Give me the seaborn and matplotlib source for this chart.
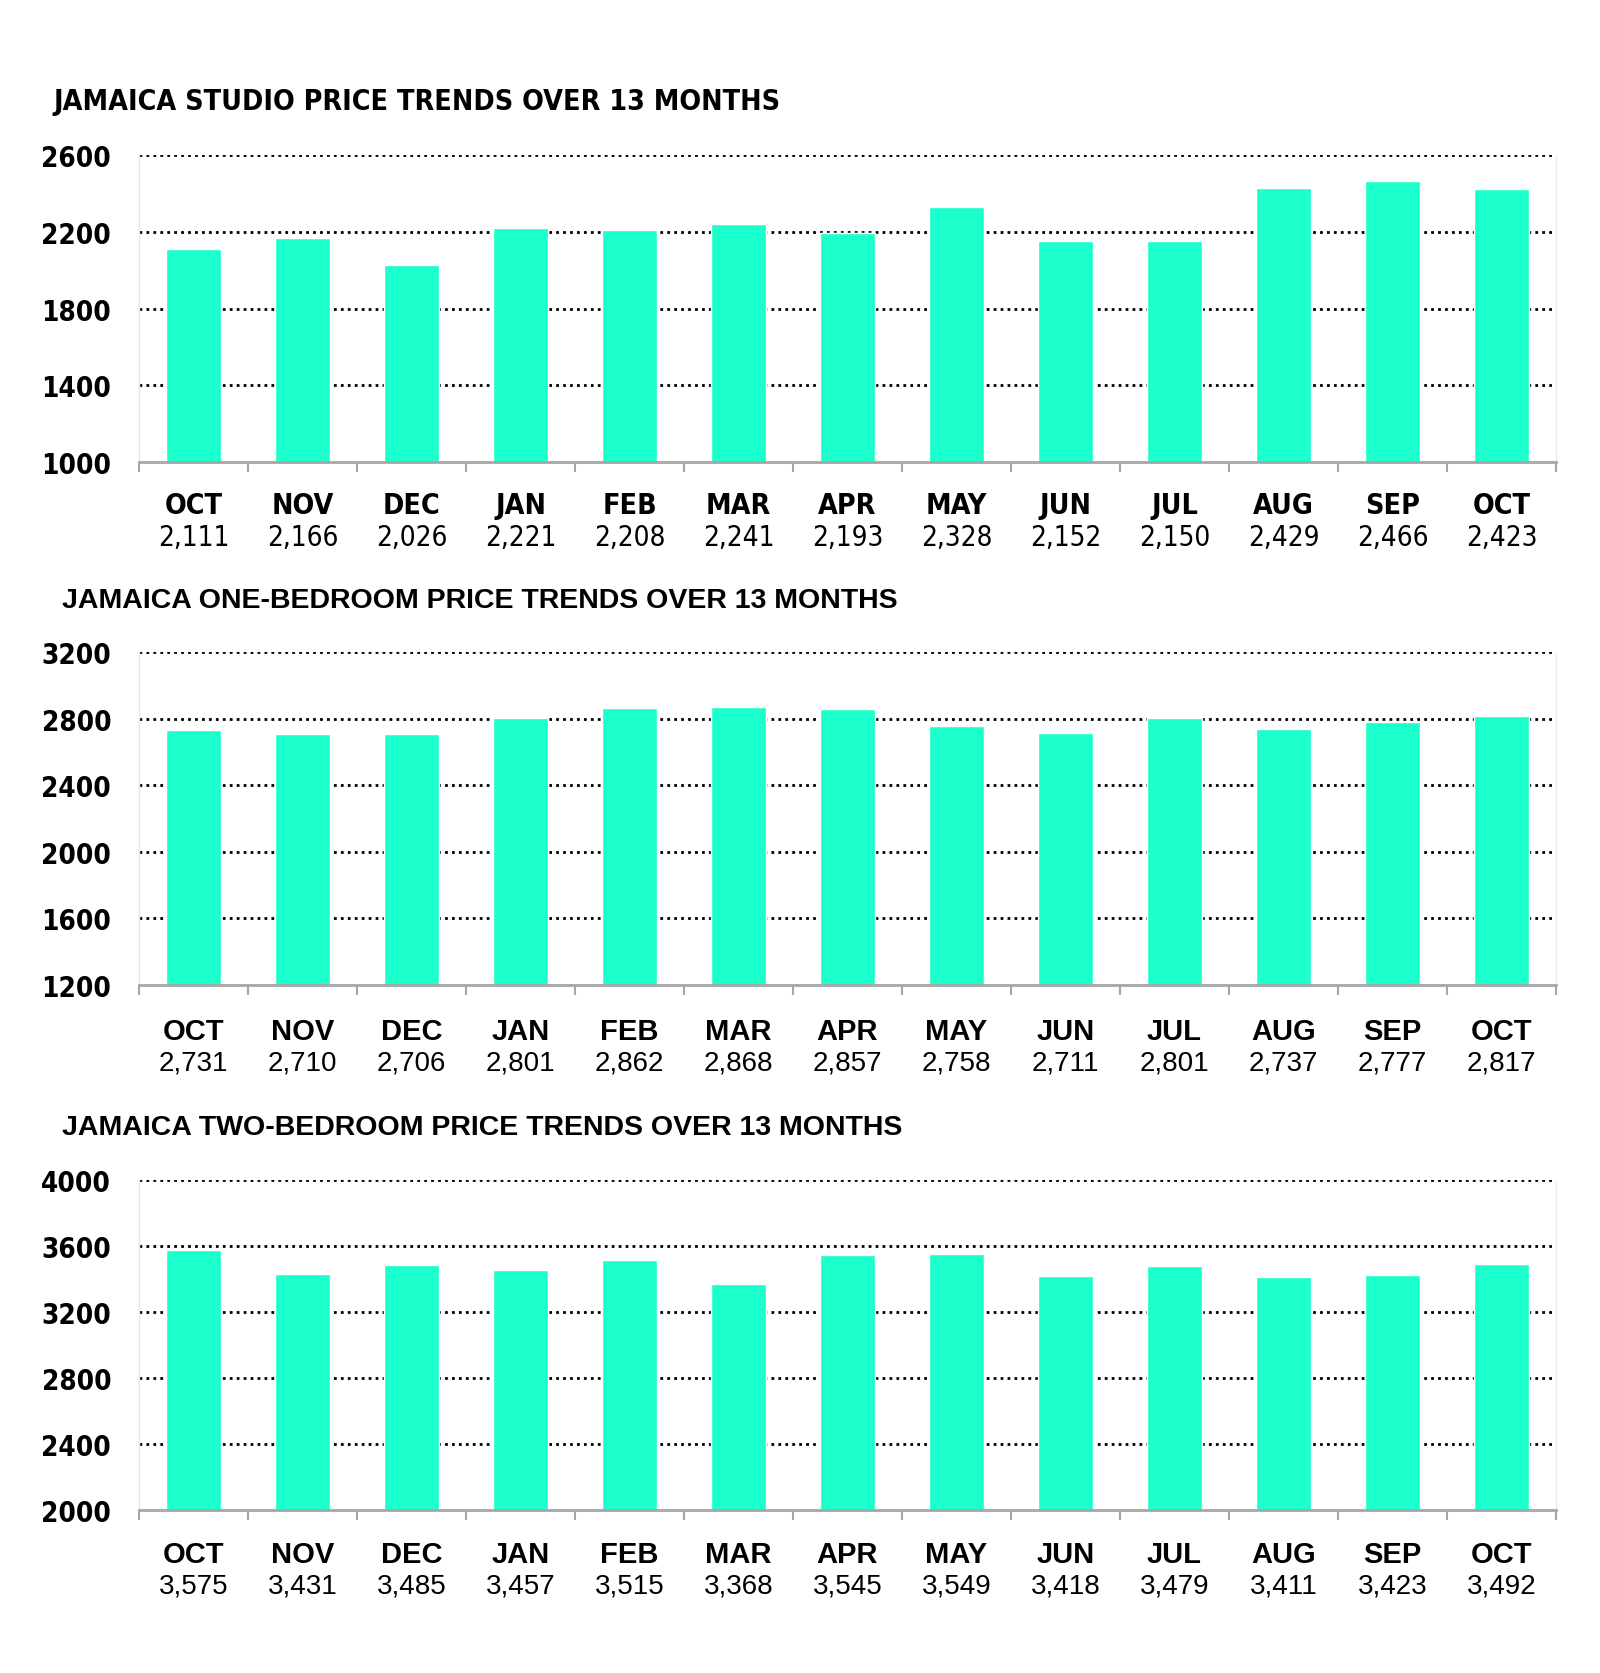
import matplotlib
matplotlib.use("Agg")
import matplotlib.pyplot as plt
import matplotlib.transforms as mtransforms
from matplotlib import font_manager
import seaborn as sns
import pandas as pd

months = ["OCT", "NOV", "DEC", "JAN", "FEB", "MAR", "APR", "MAY", "JUN", "JUL", "AUG", "SEP", "OCT"]
studio = [2111, 2166, 2026, 2221, 2208, 2241, 2193, 2328, 2152, 2150, 2429, 2466, 2423]
one_bed = [2731, 2710, 2706, 2801, 2862, 2868, 2857, 2758, 2711, 2801, 2737, 2777, 2817]
two_bed = [3575, 3431, 3485, 3457, 3515, 3368, 3545, 3549, 3418, 3479, 3411, 3423, 3492]

titles = ["JAMAICA STUDIO PRICE TRENDS OVER 13 MONTHS",
          "JAMAICA ONE-BEDROOM PRICE TRENDS OVER 13 MONTHS",
          "JAMAICA TWO-BEDROOM PRICE TRENDS OVER 13 MONTHS"]
yticks = [[1000, 1400, 1800, 2200, 2600],
          [1200, 1600, 2000, 2400, 2800, 3200],
          [2000, 2400, 2800, 3200, 3600, 4000]]

sns.set_theme(style="white")
available = {f.name for f in font_manager.fontManager.ttflist}
narrow = "Liberation Sans Narrow" if "Liberation Sans Narrow" in available else "DejaVu Sans"
plt.rcParams['font.family'] = ['Liberation Sans', 'DejaVu Sans']
plt.rcParams['text.color'] = 'black'
plt.rcParams['ytick.color'] = 'black'
plt.rcParams['xtick.color'] = 'black'

W, H = 1600, 1674
fig = plt.figure(figsize=(W / 100, H / 100), dpi=100)
fig.patch.set_facecolor("white")

layout = [
    (102, 156, 463, 506, 538, 53),
    (601, 653, 986, 1032, 1064, 62),
    (1128, 1181, 1511, 1555, 1587, 62),
]
left_px, right_px = 139, 1556
bar_color = "#1AFFCC"
series = [studio, one_bed, two_bed]

for i, (vals, title, yt, lay) in enumerate(zip(series, titles, yticks, layout)):
    ty, top, bot, my, vy, tx = lay
    ax = fig.add_axes([left_px / W, 1 - bot / H, (right_px - left_px) / W, (bot - top) / H])
    df = pd.DataFrame({"pos": list(range(len(months))), "value": vals})
    sns.barplot(data=df, x="pos", y="value", color=bar_color, width=0.5,
                saturation=1, ax=ax, zorder=3, native_scale=True)
    ax.set_xlim(-0.5, len(months) - 0.5)
    ax.set_ylim(yt[0], yt[-1])
    ax.set_yticks(yt)
    ax.set_yticklabels([str(v) for v in yt], fontsize=20, fontweight="bold",
                       family=[narrow, "DejaVu Sans"], fontstretch="condensed", color="black")
    ax.tick_params(axis="y", length=0, pad=20)
    ax.set_xticks([])
    ax.set_xticks([k - 0.5 for k in range(len(months) + 1)], minor=True)
    ax.tick_params(axis="x", which="minor", length=7, width=1.5, color="#a6a6a6", direction="out", bottom=True)
    ax.set_xlabel("")
    ax.set_ylabel("")
    for y in yt[1:]:
        ax.axhline(y, color="black", linestyle=(0, (1, 1.5)), linewidth=2, zorder=1)
    ax.spines["top"].set_visible(False)
    ax.spines["left"].set_color("#e6e6e6")
    ax.spines["right"].set_color("#eeeeee")
    ax.spines["left"].set_linewidth(1)
    ax.spines["right"].set_linewidth(1)
    ax.spines["bottom"].set_color("#a6a6a6")
    ax.spines["bottom"].set_linewidth(2)
    ax.spines["bottom"].set_zorder(4)
    trans = mtransforms.blended_transform_factory(ax.transData, fig.transFigure)
    if i == 0:
        fam = [narrow, "DejaVu Sans"]
        stretch = "condensed"
        msize, vsize, tsize = 20.5, 20, 20.5
    else:
        fam = ["Liberation Sans", "DejaVu Sans"]
        stretch = "normal"
        msize, vsize, tsize = 21, 20, 20.5
    for k, (m, v) in enumerate(zip(months, vals)):
        ax.text(k, 1 - my / H, m, transform=trans, ha="center", va="center",
                fontsize=msize, fontweight="bold", family=fam, fontstretch=stretch, clip_on=False)
        ax.text(k, 1 - vy / H, f"{v:,}", transform=trans, ha="center", va="center",
                fontsize=vsize, family=fam, fontstretch=stretch, clip_on=False)
    fig.text(tx / W, 1 - ty / H, title, ha="left", va="center", fontsize=tsize,
             fontweight="bold", family=fam, fontstretch=stretch)

fig.savefig("out.png", dpi=100, facecolor="white")
